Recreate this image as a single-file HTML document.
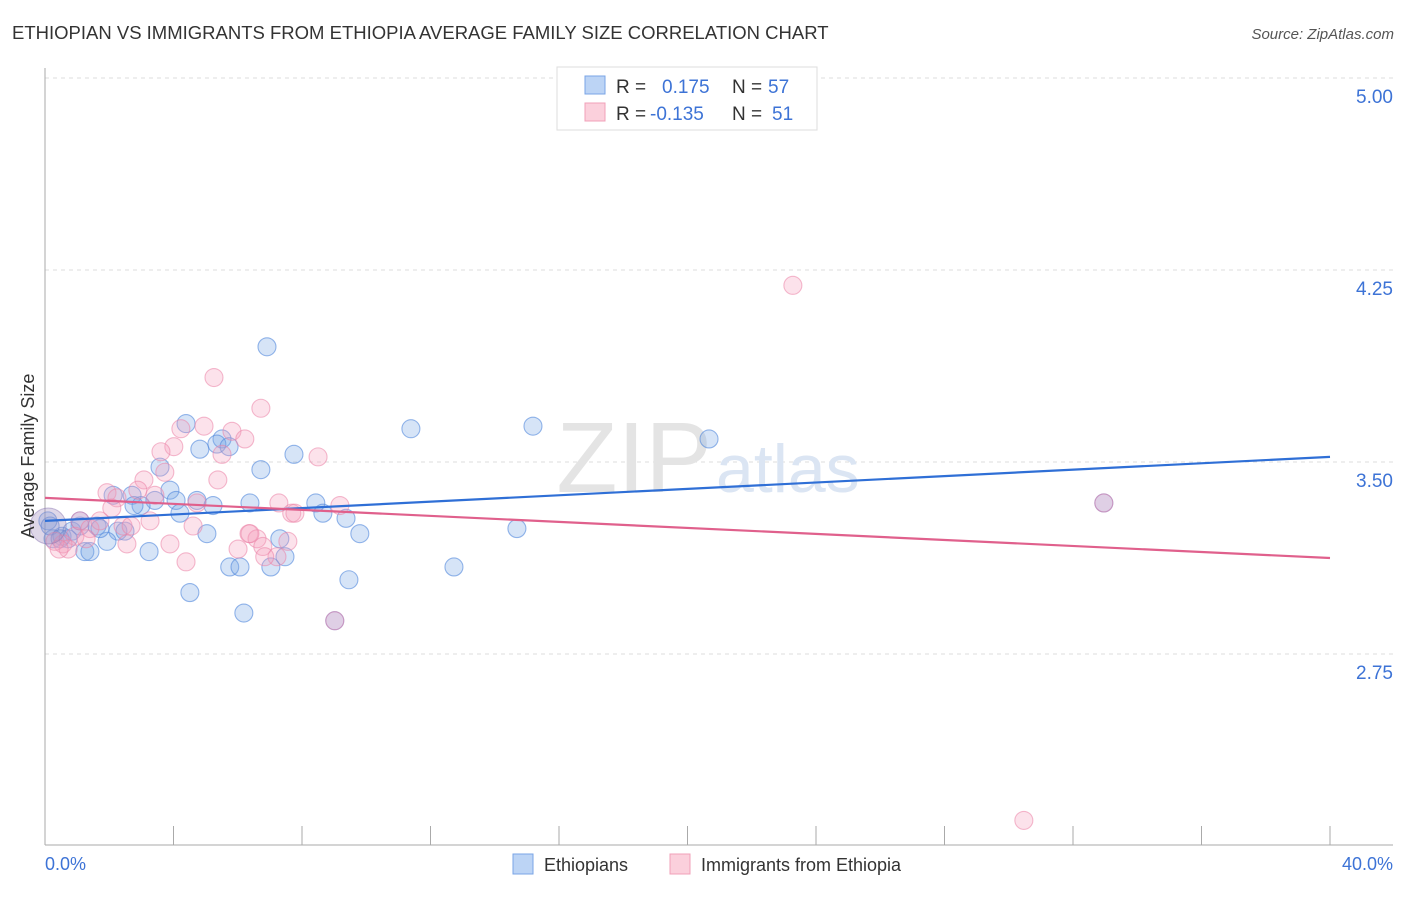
<!DOCTYPE html>
<html><head><meta charset="utf-8"><style>
body{margin:0;background:#fff;font-family:"Liberation Sans",sans-serif}
svg text{font-family:"Liberation Sans",sans-serif}
</style></head><body>
<svg id="chart" width="1406" height="892">
<text x="12" y="39" font-size="18.5" fill="#333">ETHIOPIAN VS IMMIGRANTS FROM ETHIOPIA AVERAGE FAMILY SIZE CORRELATION CHART</text>
<text x="1394" y="39" font-size="15" fill="#555" font-style="italic" text-anchor="end">Source: ZipAtlas.com</text>
<g id="grid"></g>
<text x="712" y="492" font-size="100" fill="#e4e4e4" font-family="Liberation Serif" text-anchor="end">ZIP</text>
<text x="716" y="492" font-size="68" fill="#dbe5f3">atlas</text>
<g id="axes"></g>
<g id="marks"></g>
<text transform="translate(34,456) rotate(-90)" font-size="18" fill="#333" text-anchor="middle">Average Family Size</text>
<text x="45" y="870" font-size="18" fill="#3d73d6">0.0%</text>
<text x="1393" y="870" font-size="18" fill="#3d73d6" text-anchor="end">40.0%</text>
<g>
<rect x="557" y="67" width="260" height="63" fill="#fff" stroke="#ddd"/>
<rect x="585" y="76" width="20" height="18" fill="#bcd4f5" stroke="#7aa4e6"/>
<rect x="585" y="103" width="20" height="18" fill="#fbd0dc" stroke="#f0a0b8"/>
<text x="616" y="93" font-size="19" fill="#333">R = </text><text x="662" y="93" font-size="19" fill="#3d73d6">0.175</text>
<text x="732" y="93" font-size="19" fill="#333">N = </text><text x="768" y="93" font-size="19" fill="#3d73d6">57</text>
<text x="616" y="120" font-size="19" fill="#333">R = </text><text x="650" y="120" font-size="19" fill="#3d73d6">-0.135</text>
<text x="732" y="120" font-size="19" fill="#333">N = </text><text x="772" y="120" font-size="19" fill="#3d73d6">51</text>
</g>
<g>
<rect x="513" y="854" width="20" height="20" fill="#bcd4f5" stroke="#7aa4e6"/>
<text x="544" y="871" font-size="18" fill="#333">Ethiopians</text>
<rect x="670" y="854" width="20" height="20" fill="#fbd0dc" stroke="#f0a0b8"/>
<text x="701" y="871" font-size="18" fill="#333">Immigrants from Ethiopia</text>
</g>
</svg>
<script>
const yTicks=[5.00,4.25,3.50,2.75];
const xTicks=[0,4,8,12,16,20,24,28,32,36,40];
const blueX=[6.91,4.39,11.39,15.19,20.67,5.51,5.35,4.82,5.73,7.75,3.58,6.72,3.89,2.71,2.12,3.42,4.08,2.99,4.73,5.23,6.38,8.43,4.20,8.65,9.37,14.69,9.80,5.04,0.09,1.09,1.62,2.27,2.49,0.53,0.25,1.93,7.31,3.24,1.24,1.40,7.47,5.75,6.07,7.03,12.73,9.46,4.51,6.19,9.02,32.96,0.84,1.71,0.16,0.47,1.09,2.77,0.72];
const blueY=[3.95,3.65,3.63,3.64,3.59,3.59,3.57,3.55,3.56,3.53,3.48,3.47,3.39,3.37,3.37,3.35,3.35,3.33,3.35,3.33,3.34,3.34,3.30,3.30,3.28,3.24,3.22,3.22,3.27,3.25,3.25,3.23,3.23,3.21,3.20,3.19,3.20,3.15,3.15,3.15,3.13,3.09,3.09,3.09,3.09,3.04,2.99,2.91,2.88,3.34,3.23,3.24,3.25,3.20,3.27,3.33,3.20];
const pinkX=[23.28,5.26,6.72,4.95,4.23,5.82,6.22,4.01,3.61,5.51,8.50,3.73,5.38,3.08,1.93,2.89,3.42,2.24,4.73,7.28,9.18,2.08,7.68,7.78,1.09,2.43,2.68,4.61,6.35,6.60,0.93,7.56,3.89,6.01,0.56,2.55,6.78,7.22,4.39,9.02,32.96,30.47,0.72,0.31,1.40,3.27,1.71,1.28,0.44,6.84,6.38];
const pinkY=[4.19,3.83,3.71,3.64,3.63,3.62,3.59,3.56,3.54,3.53,3.52,3.46,3.43,3.43,3.38,3.39,3.37,3.36,3.34,3.34,3.33,3.32,3.30,3.30,3.27,3.25,3.25,3.25,3.22,3.20,3.21,3.19,3.18,3.16,3.18,3.18,3.17,3.13,3.11,2.88,3.34,2.10,3.16,3.19,3.24,3.27,3.27,3.20,3.16,3.13,3.22];
const blueTrend=[3.27,3.52];
const pinkTrend=[3.36,3.125];
const X=v=>45+v/40*1285;
const Y=v=>78+(5-v)*256;
const NS="http://www.w3.org/2000/svg";
function mk(tag,attrs,parent){const e=document.createElementNS(NS,tag);for(const k in attrs)e.setAttribute(k,attrs[k]);parent.appendChild(e);return e;}
const grid=document.getElementById('grid'),axes=document.getElementById('axes'),marks=document.getElementById('marks');
yTicks.forEach(t=>{
 const l=mk('line',{x1:45,x2:1393,y1:Y(t),y2:Y(t),stroke:'#ddd','stroke-dasharray':'4,4'},grid);
 
 
 const tx=mk('text',{x:1393,y:Y(t)+25,'font-size':19,fill:'#3d73d6','text-anchor':'end'},axes);
 tx.textContent=t.toFixed(2);
 
 
});
const ya=mk('line',{x1:45,x2:45,y1:68,y2:845,stroke:'#aaa'},axes);


const xa=mk('line',{x1:45,x2:1393,y1:845,y2:845,stroke:'#aaa'},axes);


xTicks.forEach(t=>{
 const l=mk('line',{x1:X(t),x2:X(t),y1:826,y2:845,stroke:'#aaa'},axes);
 
 
});
function dots(xs,ys,fill,stroke,name){
 xs.forEach((x,i)=>{
  const c=mk('circle',{cx:X(x),cy:Y(ys[i]),r:9,fill:fill,stroke:stroke,'stroke-width':1.1},marks);
  
  
 });
}
dots(blueX,blueY,'rgba(120,165,230,0.3)','rgba(80,135,220,0.6)','ethiopians-point');
dots(pinkX,pinkY,'rgba(245,160,190,0.3)','rgba(235,130,165,0.55)','immigrants-point');
const big=mk('circle',{cx:X(0.1),cy:Y(3.25),r:18,fill:'rgba(160,140,190,0.35)',stroke:'rgba(140,120,180,0.5)'},marks);


const bl=mk('line',{x1:X(0),y1:Y(blueTrend[0]),x2:X(40),y2:Y(blueTrend[1]),stroke:'#2f6fd6','stroke-width':2.2},marks);


const pl=mk('line',{x1:X(0),y1:Y(pinkTrend[0]),x2:X(40),y2:Y(pinkTrend[1]),stroke:'#e0608c','stroke-width':2.2},marks);


</script>
</body></html>
